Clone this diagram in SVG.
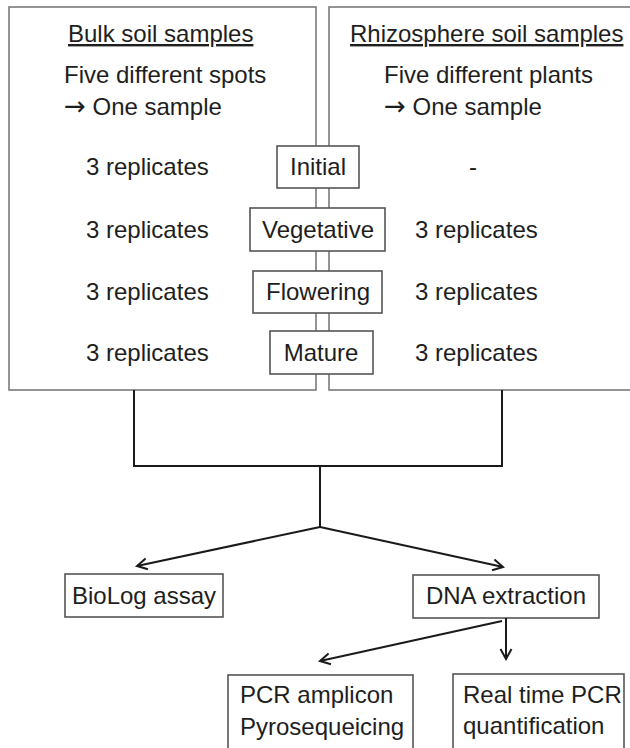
<svg xmlns="http://www.w3.org/2000/svg" width="630" height="748" viewBox="0 0 630 748">
<style>
text{font-family:"Liberation Sans",Arial,sans-serif;font-size:24px;fill:#1e1e1e}
.ar{font-family:"DejaVu Sans",sans-serif;font-size:26px}
.big{fill:#fff;stroke:#7a7a7a;stroke-width:1.6}
.box{fill:#fff;stroke:#555;stroke-width:1.6}
.c{text-anchor:middle}
.u{text-decoration:underline}
.con{fill:none;stroke:#1a1a1a;stroke-width:2}
</style>
<defs>
<marker id="ah" markerUnits="userSpaceOnUse" markerWidth="14" markerHeight="14" viewBox="0 0 14 14" refX="12" refY="7" orient="auto">
<path d="M2,1.5 L12,7 L2,12.5" fill="none" stroke="#1a1a1a" stroke-width="2"/>
</marker>
</defs>
<rect width="630" height="748" fill="#fff"/>
<g id="bulk">
<rect class="big" x="9" y="7" width="307" height="383"/>
<text class="u" x="68" y="42">Bulk soil samples</text>
<text x="64" y="83">Five different spots</text>
<text x="64" y="115"><tspan class="ar">→</tspan> One sample</text>
<text x="86" y="175">3 replicates</text>
<text x="86" y="238">3 replicates</text>
<text x="86" y="300">3 replicates</text>
<text x="86" y="361">3 replicates</text>
</g>
<g id="rhizo">
<rect class="big" x="329" y="7" width="320" height="383"/>
<text class="u" x="350" y="42">Rhizosphere soil samples</text>
<text x="384" y="83">Five different plants</text>
<text x="384" y="115"><tspan class="ar">→</tspan> One sample</text>
<text x="473" y="175" class="c">-</text>
<text x="415" y="238">3 replicates</text>
<text x="415" y="300">3 replicates</text>
<text x="415" y="361">3 replicates</text>
</g>
<g id="initial"><rect class="box" x="277" y="146" width="82" height="42"/><text class="c" x="318" y="175">Initial</text></g>
<g id="vegetative"><rect class="box" x="250" y="208" width="135" height="43"/><text class="c" x="318" y="238">Vegetative</text></g>
<g id="flowering"><rect class="box" x="253" y="271" width="129" height="42"/><text class="c" x="318" y="300">Flowering</text></g>
<g id="mature"><rect class="box" x="270" y="331" width="103" height="43"/><text class="c" x="321" y="361">Mature</text></g>
<g id="biolog"><rect class="box" x="65" y="574" width="158" height="43"/><text class="c" x="144" y="604">BioLog assay</text></g>
<g id="dna"><rect class="box" x="413" y="575" width="186" height="43"/><text class="c" x="506" y="604">DNA extraction</text></g>
<g id="pcr"><rect class="box" x="228" y="675" width="185" height="90"/><text x="240" y="703">PCR amplicon</text><text x="240" y="735">Pyrosequeicing</text></g>
<g id="realtime"><rect class="box" x="453" y="674" width="171" height="90"/><text x="463" y="703">Real time PCR</text><text x="463" y="734">quantification</text></g>
<g id="connectors">
<path class="con" d="M134,390 V466 H502 V390"/>
<path class="con" d="M320,466 V527"/>
<path class="con" d="M320,527 L137,566" marker-end="url(#ah)"/>
<path class="con" d="M320,527 L503,567" marker-end="url(#ah)"/>
<path class="con" d="M502,621 L320,661" marker-end="url(#ah)"/>
<path class="con" d="M506,618 V659" marker-end="url(#ah)"/>
</g>
</svg>
